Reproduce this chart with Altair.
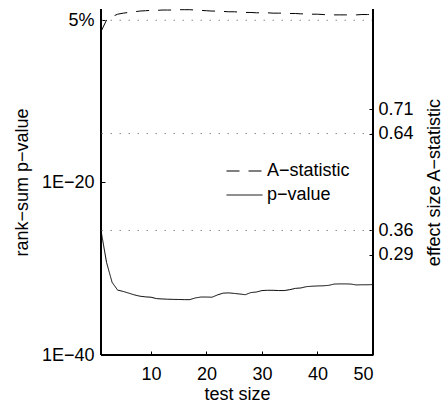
import math
import altair as alt
import pandas as pd

# ---------------- data ----------------
test_size = list(range(1, 51))

a_statistic = [0.935, 0.968, 0.978, 0.985, 0.988, 0.990, 0.992, 0.994, 0.995, 0.996,
               0.996, 0.997, 0.997, 0.997, 0.998, 0.998, 0.998, 0.997, 0.996, 0.995,
               0.994, 0.994, 0.993, 0.992, 0.992, 0.991, 0.990, 0.990, 0.989, 0.989,
               0.989, 0.988, 0.988, 0.988, 0.987, 0.987, 0.986, 0.986, 0.985, 0.985,
               0.984, 0.983, 0.983, 0.983, 0.983, 0.983, 0.983, 0.984, 0.984, 0.984]

# log10 of the rank-sum p-value
p_value_exponent = [-25.6, -29.3, -31.6, -32.5, -32.65, -32.85, -33.05, -33.2, -33.28, -33.32,
                    -33.48, -33.52, -33.55, -33.57, -33.58, -33.6, -33.6, -33.4, -33.3, -33.3,
                    -33.32, -33.05, -32.85, -32.82, -32.88, -32.95, -33.03, -32.78, -32.72, -32.55,
                    -32.52, -32.52, -32.55, -32.55, -32.45, -32.3, -32.25, -32.1, -32.05, -32.02,
                    -32.0, -31.95, -31.8, -31.78, -31.78, -31.8, -31.9, -31.88, -31.88, -31.86]

series_names = ["A\u2212statistic", "p\u2212value"]

left_tick_values = [1e-40, 1e-20, 0.05]
left_tick_labels = ["1E\u221240", "1E\u221220", "5%"]
right_tick_values = [0.29, 0.36, 0.64, 0.71]
x_tick_values = [10, 20, 30, 40, 50]

left_reference = [0.05]
right_reference = [0.36, 0.64]

x_domain = [1, 50]
left_domain = [1e-40, 1]
right_domain = [0, 1]

FONT = "Liberation Sans"
FS = 18

# ---------------- tables ----------------
p_df = pd.DataFrame({
    "x": test_size,
    "v": [10 ** e for e in p_value_exponent],
    "series": series_names[1],
})
a_df = pd.DataFrame({
    "x": test_size,
    "v": a_statistic,
    "series": series_names[0],
})
left_ref_df = pd.DataFrame({"v": left_reference})
right_ref_df = pd.DataFrame({"v": right_reference})

label_expr = " : ".join(
    f"abs(log(datum.value)/LN10 - ({math.log10(v):.6f})) < 0.01 ? '{lab}'"
    for v, lab in zip(left_tick_values, left_tick_labels)
) + " : ''"

x_scale = alt.Scale(domain=x_domain, nice=False, zero=False)
left_scale = alt.Scale(type="log", domain=left_domain, nice=False)
right_scale = alt.Scale(domain=right_domain, nice=False, zero=False)

dash_scale = alt.Scale(domain=series_names, range=[[13, 9], [1, 0]])

legend = alt.Legend(
    title=None, orient="none", legendX=125, legendY=151,
    symbolType="stroke", symbolSize=1296, symbolStrokeWidth=1,
    symbolStrokeColor="black", labelFont=FONT, labelFontSize=FS,
    labelColor="black", labelOffset=4, clipHeight=22, rowPadding=2,
    padding=0,
)

x_axis = alt.Axis(
    values=x_tick_values, title="test size", orient="bottom",
    offset=-4, tickSize=4, domain=False, grid=False,
    labelPadding=10, titlePadding=2,
)

left_axis = alt.Axis(
    values=left_tick_values, labelExpr=label_expr, orient="left",
    title="rank\u2212sum p\u2212value", offset=-4, tickSize=4,
    domain=False, grid=False, labelPadding=7, titlePadding=10,
)

right_axis = alt.Axis(
    values=right_tick_values, format=".2f", orient="right",
    title="effect size A\u2212statistic", offset=-4, tickSize=4,
    domain=False, grid=False, labelPadding=5, titlePadding=12,
    titleAngle=270, titleBaseline="top",
)

# ---------------- left (log) layer ----------------
p_line = alt.Chart(p_df).mark_line(color="black", strokeWidth=1).encode(
    x=alt.X("x:Q", scale=x_scale, axis=x_axis),
    y=alt.Y("v:Q", scale=left_scale, axis=left_axis),
    strokeDash=alt.StrokeDash("series:N", scale=dash_scale, legend=legend),
)
left_ref = alt.Chart(left_ref_df).mark_rule(
    color="#8c8c8c", strokeWidth=1, strokeDash=[1.5, 7.5]
).encode(y=alt.Y("v:Q", scale=left_scale))
left_frame = alt.Chart(p_df).mark_rule(color="black", strokeWidth=1).encode(
    x=alt.XDatum(x_domain[0])
)
bottom_frame = alt.Chart(p_df).mark_rule(color="black", strokeWidth=1).encode(
    y=alt.YDatum(left_domain[0], scale=left_scale)
)
left_layer = alt.layer(left_ref, p_line, left_frame, bottom_frame)

# ---------------- right (linear) layer ----------------
a_line = alt.Chart(a_df).mark_line(color="black", strokeWidth=1).encode(
    x=alt.X("x:Q", scale=x_scale),
    y=alt.Y("v:Q", scale=right_scale, axis=right_axis),
    strokeDash=alt.StrokeDash("series:N", scale=dash_scale, legend=legend),
)
right_ref = alt.Chart(right_ref_df).mark_rule(
    color="#8c8c8c", strokeWidth=1, strokeDash=[1.5, 7.5]
).encode(y=alt.Y("v:Q", scale=right_scale))
right_frame = alt.Chart(a_df).mark_rule(color="black", strokeWidth=1).encode(
    x=alt.XDatum(x_domain[1])
)
right_layer = alt.layer(right_ref, a_line, right_frame)

chart = (
    alt.layer(left_layer, right_layer)
    .resolve_scale(y="independent")
    .properties(
        width=272, height=346,
        autosize=alt.AutoSizeParams(type="none"),
        padding={"left": 101, "top": 9, "right": 72, "bottom": 55},
        background="white",
    )
    .configure_view(stroke=None)
    .configure_axis(
        labelFont=FONT, titleFont=FONT, labelFontSize=FS, titleFontSize=FS,
        labelColor="black", titleColor="black", tickColor="black",
        titleFontWeight="normal", tickWidth=1,
    )
)

chart.save("out.html", embed_options={"renderer": "svg", "actions": False})
